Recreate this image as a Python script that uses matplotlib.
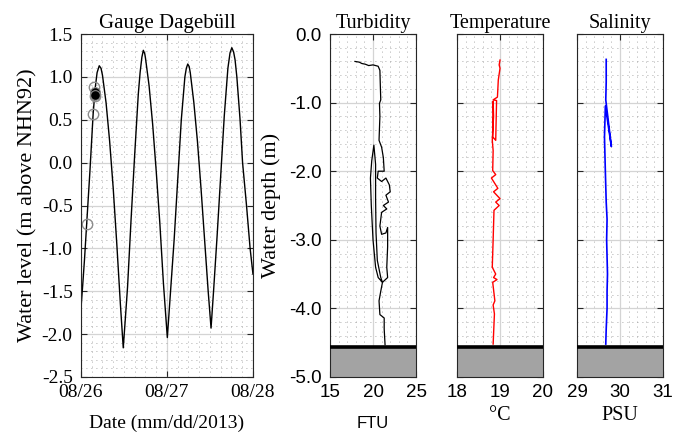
import numpy as np
import matplotlib
matplotlib.use("Agg")
import matplotlib.pyplot as plt
import matplotlib.dates as mdates
from matplotlib.ticker import MultipleLocator, FormatStrFormatter
from datetime import datetime, timedelta

plt.rcParams['axes.unicode_minus'] = False

SERIF = 'Liberation Serif'
SANS = 'Liberation Sans'

# --- tide gauge Dagebuell (hours after 2013-08-26 00:00, m above NHN92) ---
tide_hours = [0, 0.5, 1, 1.6, 2.5, 3.4, 4, 4.5, 5.1, 5.6,
              6, 7, 8, 9, 10, 11, 11.8,
              12.5, 13, 14, 15, 16, 16.5, 17, 17.4, 17.8,
              18, 19, 20, 21, 22, 23, 24.1,
              25, 26, 27, 28, 29, 29.4, 29.8, 30.2,
              30.5, 31.5, 32.5, 33.5, 34.5, 35.5, 36.3,
              37, 38, 39, 40, 41, 41.6, 42.1, 42.6,
              43, 43.5, 44.4, 45.1, 46.2, 47.2, 48]
tide_level = [-1.7, -1.42, -1.12, -0.71, -0.1, 0.57, 0.88, 1.05, 1.13, 1.1,
              1.02, 0.7, 0.25, -0.3, -0.95, -1.65, -2.16,
              -1.75, -1.45, -0.65, 0.1, 0.8, 1.05, 1.23, 1.31, 1.27,
              1.22, 0.9, 0.45, -0.1, -0.7, -1.4, -2.04,
              -1.5, -0.9, -0.2, 0.5, 1.0, 1.1, 1.15, 1.12,
              1.05, 0.7, 0.25, -0.3, -0.9, -1.5, -1.93,
              -1.5, -0.85, -0.15, 0.55, 1.1, 1.28, 1.34, 1.29,
              1.2, 1.0, 0.5, 0.0, -0.5, -1.0, -1.3]

# cast markers on the tide curve
cast_hours = [1.59, 3.43, 3.71, 3.85]
cast_level = [-0.71, 0.57, 0.88, 0.78]
cast_now_hours = [3.85, 3.9, 3.95]
cast_now_level = [0.80, 0.82, 0.79]

# --- CTD profile ---
turb = [17.9, 18.4, 18.7, 19.1, 19.5, 20.0, 20.6, 20.8, 20.85, 20.9, 20.75, 20.8,
        20.7, 21.0, 21.2, 21.3, 20.6, 20.5, 21.0, 21.5, 21.9, 22.0, 21.5, 21.8,
        21.2, 21.6, 21.0, 20.8, 21.0, 21.5, 21.7, 21.7, 21.6, 21.7, 21.1, 20.6,
        20.3, 20.0, 19.8, 19.7, 19.85, 20.1, 20.3, 20.3, 20.35, 20.5, 20.9, 21.1,
        20.9, 20.7, 20.8, 21.3, 21.3, 21.4]
turb_depth = [-0.40, -0.41, -0.43, -0.44, -0.46, -0.45, -0.47, -0.53, -0.75, -0.96, -1.01, -1.2,
              -1.55, -1.65, -1.8, -2.0, -2.0, -2.1, -2.15, -2.1, -2.2, -2.3, -2.35, -2.45,
              -2.5, -2.55, -2.6, -2.8, -2.92, -2.9, -2.82, -3.1, -3.4, -3.55, -3.62, -3.55,
              -3.4, -3.0, -2.5, -2.1, -1.85, -1.62, -1.9, -2.4, -2.9, -3.3, -3.55, -3.62,
              -3.75, -3.89, -4.09, -4.14, -4.3, -4.53]

temp = [19.0, 18.98, 19.0, 18.96, 18.94, 18.84, 18.92, 18.9, 18.83, 18.84, 18.85, 18.82,
        18.84, 18.83, 18.9, 18.8, 18.95, 18.85, 19.0, 18.9, 18.98, 18.86, 18.84, 18.82,
        18.9, 18.85, 18.93, 18.83, 18.88, 18.84, 18.87, 18.84]
temp_depth = [-0.38, -0.45, -0.5, -0.67, -0.92, -0.96, -0.97, -1.55, -1.5, -0.98, -1.2, -1.55,
              -1.7, -1.99, -2.05, -2.1, -2.25, -2.3, -2.4, -2.45, -2.5, -2.57, -3.0, -3.4,
              -3.5, -3.55, -3.58, -3.62, -3.89, -3.95, -4.08, -4.52]

sal = [29.68, 29.68, 29.67, 29.8, 29.66, 29.64, 29.66, 29.68, 29.7, 29.69, 29.71, 29.7,
       29.7, 29.68, 29.67]
sal_depth = [-0.37, -0.7, -0.96, -1.64, -1.05, -1.5, -2.0, -2.45, -2.7, -3.0, -3.5, -3.75,
             -4.0, -4.3, -4.52]

bed_depth = -4.57

t0 = datetime(2013, 8, 26)
tide_t = [t0 + timedelta(hours=h) for h in tide_hours]
cast_t = [t0 + timedelta(hours=h) for h in cast_hours]
cast_now_t = [t0 + timedelta(hours=h) for h in cast_now_hours]

fig = plt.figure(figsize=(6.85, 4.4), dpi=100)


def style(ax):
    ax.grid(True, which='major', color='#d4d4d4', lw=0.9, ls='-')
    ax.grid(True, which='minor', color='#8f8f8f', lw=0.6, ls=(0, (1, 5)))
    ax.tick_params(which='major', direction='in', top=True, right=True,
                   length=4, width=0.8, color='#262626')
    ax.tick_params(axis='x', which='major', pad=5)
    ax.tick_params(axis='y', which='major', pad=6)
    ax.tick_params(which='minor', length=0)
    for s in ax.spines.values():
        s.set_color('#262626')
        s.set_linewidth(0.8)


# gauge panel
ax1 = fig.add_axes([0.1182, 0.1432, 0.2511, 0.7795])
ax1.plot(tide_t, tide_level, color='k', lw=1.0)
ax1.plot(cast_t, cast_level, 'o', mfc='none', mec='#8c8c8c', ms=7.5, mew=1.0)
ax1.plot(cast_now_t, cast_now_level, 'o', mfc='k', mec='#8c8c8c', ms=7.0, mew=0.8)
ax1.set_xlim(t0, t0 + timedelta(days=2))
ax1.set_ylim(-2.5, 1.5)
ax1.xaxis.set_major_locator(mdates.DayLocator())
ax1.xaxis.set_minor_locator(mdates.HourLocator(byhour=range(0, 24, 3)))
ax1.xaxis.set_major_formatter(mdates.DateFormatter('%m/%d'))
ax1.yaxis.set_major_locator(MultipleLocator(0.5))
ax1.yaxis.set_minor_locator(MultipleLocator(0.1))
ax1.yaxis.set_major_formatter(FormatStrFormatter('%.1f'))
style(ax1)
for lab in ax1.get_xticklabels() + ax1.get_yticklabels():
    lab.set_family(SERIF)
    lab.set_fontsize(14)
ax1.set_title('Gauge Dagebüll', family=SERIF, fontsize=15, pad=4)
ax1.set_ylabel('Water level (m above NHN92)', family=SERIF, fontsize=16, labelpad=3)
ax1.set_xlabel('Date (mm/dd/2013)', family=SERIF, fontsize=14, labelpad=10)

# profile panels
panels = [
    (0.4818, turb, turb_depth, 'k', 0.9, (15, 25), 5, 1, 'Turbidity', 'FTU', SANS, 11),
    (0.6672, temp, temp_depth, '#ff0000', 1.0, (18, 20), 1, 0.2, 'Temperature', '°C', SERIF, 4),
    (0.8423, sal, sal_depth, '#0000ff', 1.2, (29, 31), 1, 0.2, 'Salinity', 'PSU', SERIF, 4),
]
for i, (left, xv, dv, col, lw, xlim, xmaj, xmin, title, unit, ufont, lpad) in enumerate(panels):
    ax = fig.add_axes([left, 0.1432, 0.1255, 0.7795])
    ax.axhspan(-5, bed_depth, color='#a3a3a3', lw=0, zorder=2)
    ax.plot(xv, dv, color=col, lw=lw, zorder=3)
    ax.axhline(bed_depth, color='k', lw=2.6, zorder=4)
    ax.set_xlim(*xlim)
    ax.set_ylim(-5, 0)
    ax.xaxis.set_major_locator(MultipleLocator(xmaj))
    ax.xaxis.set_minor_locator(MultipleLocator(xmin))
    ax.yaxis.set_major_locator(MultipleLocator(1))
    ax.yaxis.set_minor_locator(MultipleLocator(0.2))
    ax.yaxis.set_major_formatter(FormatStrFormatter('%.1f'))
    style(ax)
    for lab in ax.get_xticklabels():
        lab.set_family(SANS)
        lab.set_fontsize(13.5)
    if i == 0:
        for lab in ax.get_yticklabels():
            lab.set_family(SANS)
            lab.set_fontsize(13.5)
        ax.set_ylabel('Water depth (m)', family=SERIF, fontsize=16, labelpad=6)
    else:
        ax.set_yticklabels([])
    ax.set_title(title, family=SERIF, fontsize=14.5, pad=4)
    ax.set_xlabel(unit, family=ufont, fontsize=14.5 if ufont == SERIF else 12,
                  labelpad=lpad)

fig.savefig('out.png', dpi=100)
